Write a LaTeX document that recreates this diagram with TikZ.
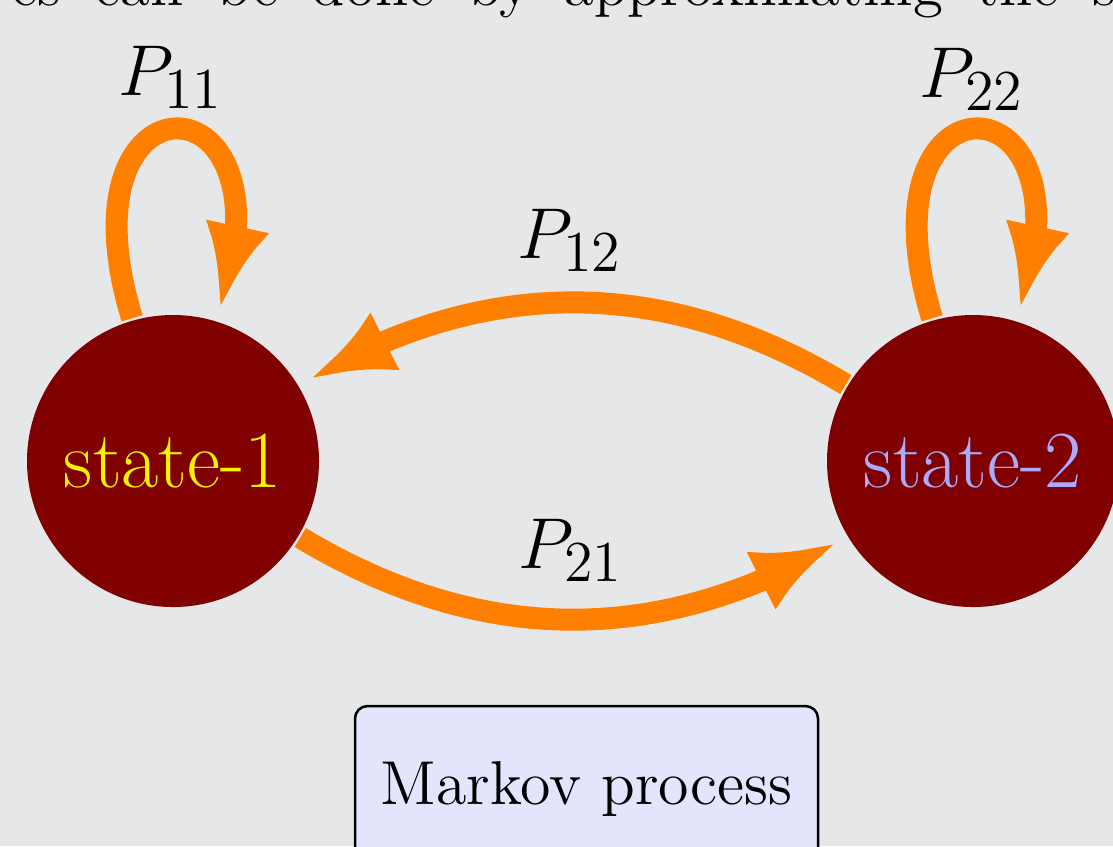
\documentclass[tikz,border=0pt]{standalone}
\usetikzlibrary{arrows.meta,bending}
\definecolor{bg}{RGB}{229,231,233}
\definecolor{statefill}{RGB}{128,0,0}
\definecolor{arrowc}{RGB}{255,128,0}
\definecolor{stwo}{RGB}{170,170,255}
\definecolor{boxfill}{RGB}{228,228,252}
\newcommand\subidx[1]{\mbox{\fontsize{11.6}{12}\selectfont #1}}
\begin{document}
\begin{tikzpicture}[x=0.2pt,y=0.2pt,
  statenode/.style={circle,fill=statefill,minimum size=58.4pt,inner sep=0pt,outer sep=0.5pt,font=\fontsize{16.2}{19}\selectfont},
  arr/.style={draw=arrowc,line width=4.4pt,-{Latex[length=17pt,width=13pt]},shorten >=2pt},
  lbl/.style={anchor=base,inner sep=0pt,font=\fontsize{14.6}{17}\selectfont},
  procbox/.style={draw=black,line width=0.5pt,fill=boxfill,rounded corners=2.5pt,minimum width=92.6pt,minimum height=33.2pt,font=\fontsize{12.4}{15}\selectfont}
  ]
\fill[bg] (0,0) rectangle (1113,846);
\useasboundingbox (0,0) rectangle (1113,846);
\begin{scope}
  \clip (0,0) rectangle (1113,846);
  \node[anchor=base west,inner sep=0pt,font=\fontsize{12.2}{15}\selectfont] (toptext) at (10,841)
    {\makebox[221pt][s]{es can be done by approximating the s}};
  \node[procbox] (box) at (586.5,57) {Markov process};
\end{scope}
\node[statenode,text=yellow] (s1) at (173,385) {state-1};
\node[statenode,text=stwo] (s2) at (973,385) {state-2};
\draw[arr] (s1.106) .. controls +(107:270) and +(70:265) .. (s1.73);
\draw[arr] (s2.106) .. controls +(107:270) and +(70:265) .. (s2.73);
\draw[arr] (s2) to[bend right=31] (s1);
\draw[arr] (s1) to[bend right=31] (s2);
\node[lbl] (p11) at (171,751) {$P_{\subidx{11}}$};
\node[lbl] (p22) at (972,749) {$P_{\subidx{22}}$};
\node[lbl] (p12) at (570,588) {$P_{\subidx{12}}$};
\node[lbl] (p21) at (571,278) {$P_{\subidx{21}}$};
\end{tikzpicture}
\end{document}
